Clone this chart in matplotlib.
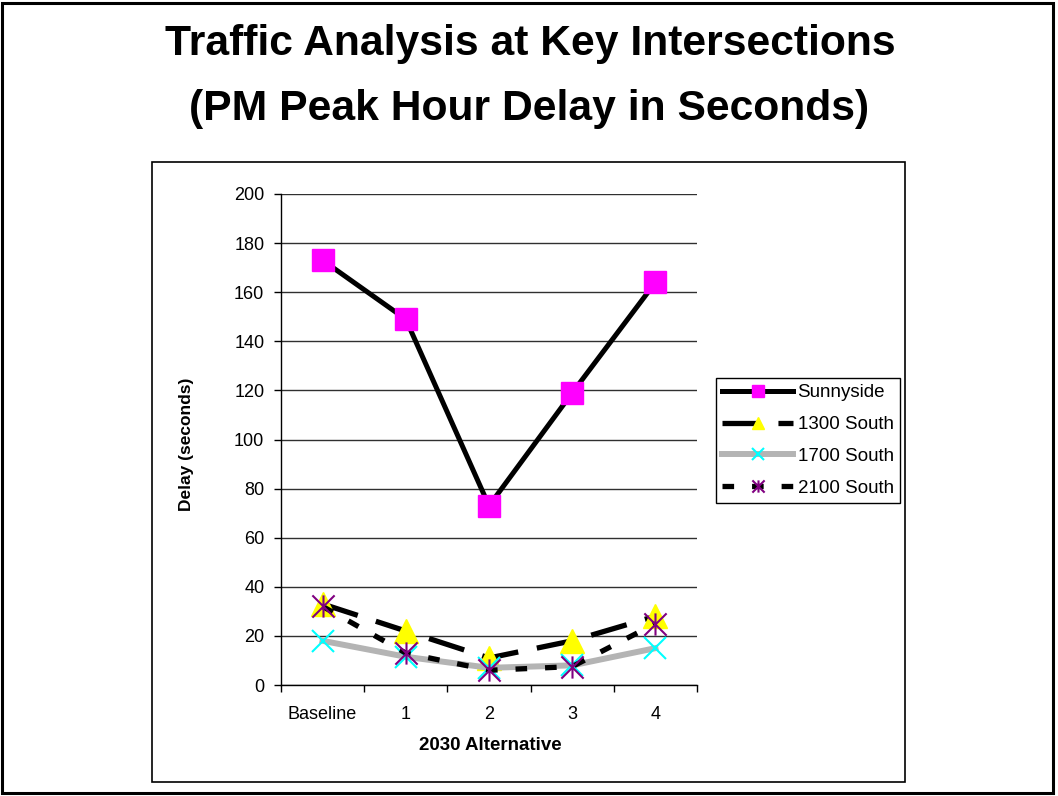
import numpy as np
import matplotlib
matplotlib.use("Agg")
import matplotlib.pyplot as plt
from matplotlib.path import Path
from matplotlib.patches import Rectangle

plt.rcParams['font.family'] = ['Liberation Sans', 'DejaVu Sans']

# data
alternatives = ['Baseline', '1', '2', '3', '4']
sunnyside = [173, 149, 73, 119, 164]
south_1300 = [33, 22, 11, 18, 28]
south_1700 = [18, 11.5, 7, 8, 15]
south_2100 = [32, 13, 6, 7.5, 25]
y_ticks = [0, 20, 40, 60, 80, 100, 120, 140, 160, 180, 200]

# excel style asterisk: an x with a vertical bar
star_path = Path([(-0.5, -0.5), (0.5, 0.5), (-0.5, 0.5), (0.5, -0.5), (0, -0.5), (0, 0.5)],
                 [Path.MOVETO, Path.LINETO, Path.MOVETO, Path.LINETO, Path.MOVETO, Path.LINETO])

W, H = 1058, 796
fig = plt.figure(figsize=(W / 100, H / 100), dpi=100)

# outer border and inner chart box
fig.patches.append(Rectangle((2 / W, 3 / H), 1051 / W, 790 / H, transform=fig.transFigure,
                             fill=False, edgecolor='black', linewidth=2.2))
fig.patches.append(Rectangle((152 / W, 1 - 782 / H), 753 / W, 620 / H, transform=fig.transFigure,
                             fill=False, edgecolor='black', linewidth=1.2))

ax = fig.add_axes([281 / W, 1 - 685 / H, 416 / W, 491 / H])
x = np.arange(len(alternatives))

ax.plot(x, sunnyside, color='black', lw=3.6, marker='s', ms=16,
        mfc='#FF00FF', mec='#FF00FF', label='Sunnyside', zorder=3)
ax.plot(x, south_1300, color='black', lw=3.8, dashes=(7, 3.6), marker='^', ms=17,
        mfc='#FFFF00', mec='#FFFF00', label='1300 South', zorder=3)
ax.plot(x, south_1700, color='#b4b4b4', lw=4.3, marker='x', ms=16, mew=1.5,
        mec='#00FFFF', label='1700 South', zorder=3)
ax.plot(x, south_2100, color='black', lw=3.8, dashes=(2.2, 3.4), marker=star_path, ms=16, mew=1.5,
        mec='#800080', label='2100 South', zorder=3)

ax.set_xlim(-0.5, 4.5)
ax.set_ylim(0, 200)
ax.set_yticks(y_ticks)
ax.set_xticks(x)
ax.set_xticklabels(alternatives)
ax.set_xticks(np.arange(-0.5, 5, 1), minor=True)
ax.tick_params(axis='x', which='major', length=0, pad=15, labelsize=13)
ax.tick_params(axis='x', which='minor', length=5, width=1, direction='out')
ax.tick_params(axis='y', length=5, width=1, direction='out', pad=7, labelsize=13)

ax.yaxis.grid(True, color='#303030', lw=1)
ax.set_axisbelow(True)
for s in ['top', 'right']:
    ax.spines[s].set_visible(False)
ax.spines['left'].set_linewidth(1)
ax.spines['bottom'].set_linewidth(1)

fig.text(490 / W, 1 - 745 / H, '2030 Alternative', ha='center', va='center',
         fontsize=13.5, fontweight='bold')
fig.text(187 / W, 1 - 444 / H, 'Delay (seconds)', ha='center', va='center',
         rotation=90, fontsize=12.5, fontweight='bold')

fig.text(530 / W, 1 - 55 / H, 'Traffic Analysis at Key Intersections', ha='center',
         va='baseline', fontsize=30.7, fontweight='bold')
fig.text(529 / W, 1 - 120 / H, '(PM Peak Hour Delay in Seconds)', ha='center',
         va='baseline', fontsize=30.7, fontweight='bold')

leg = fig.legend(loc='upper left', bbox_to_anchor=(716 / W, 1 - 378 / H),
                 bbox_transform=fig.transFigure, fontsize=13.5, markerscale=0.55,
                 handlelength=3.8, handletextpad=0.22, labelspacing=0.78,
                 borderpad=0.33, borderaxespad=0, numpoints=1, fancybox=False,
                 framealpha=1, edgecolor='black')
leg.get_frame().set_linewidth(1)

fig.savefig('out.png', dpi=100)
